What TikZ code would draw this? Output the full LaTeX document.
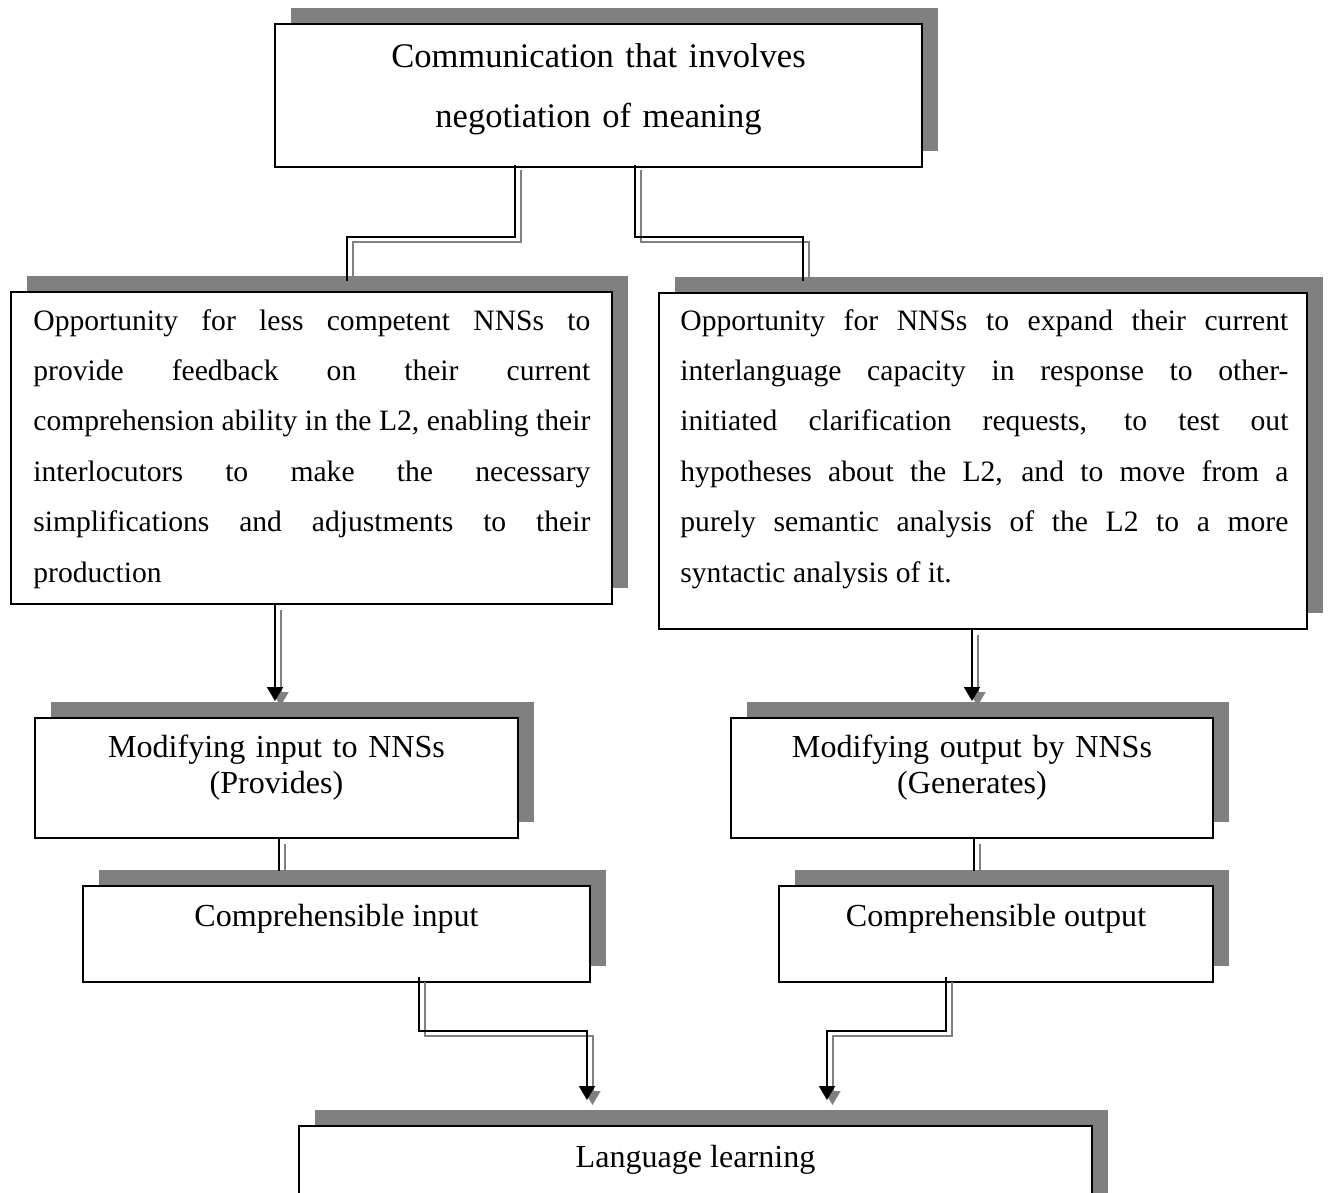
\documentclass[tikz,border=0pt]{standalone}
\usepackage{fontspec}
\setmainfont{Liberation Serif}
\usetikzlibrary{arrows.meta,shadows}
\hyphenpenalty=10000

\begin{document}
\begin{tikzpicture}[x=0.5pt,y=0.5pt,
  box/.style={draw=black, line width=1pt, fill=white, inner sep=0pt,
    general shadow={fill=black!50, shadow xshift=8pt, shadow yshift=8pt}},
  txt/.style={inner sep=0pt, anchor=base},
  link/.style={draw=black, line width=1pt,
    preaction={draw=black!50, line width=1pt, transform canvas={shift={(2.75pt,-2.5pt)}}}},
  tiplink/.style={draw=black, line width=1pt, -{Triangle[length=7pt,width=8pt]},
    preaction={draw=black!50, line width=1pt, -{Triangle[length=7pt,width=8pt]},
      transform canvas={shift={(2.75pt,-2.5pt)}}}}]
\useasboundingbox (0,0) rectangle (1328,-1193);
\clip (0,0) rectangle (1328,-1193);

\node[box, minimum width=323.5pt, minimum height=71.5pt] (top) at (598.5,-95.5) {};
\node[box, minimum width=300.5pt, minimum height=156pt] (L) at (311.5,-448) {};
\node[box, minimum width=324pt, minimum height=168pt] (R) at (983,-461) {};
\node[box, minimum width=241.5pt, minimum height=60pt] (MI) at (276.5,-778) {};
\node[box, minimum width=241pt, minimum height=60pt] (MO) at (972,-778) {};
\node[box, minimum width=253.5pt, minimum height=48pt] (CI) at (336.5,-934) {};
\node[box, minimum width=217pt, minimum height=48pt] (CO) at (996,-934) {};
\node[box, minimum width=396.5pt, minimum height=52pt] (LL) at (695.5,-1178) {};

\node[txt, text width=323.5pt, align=center, font=\fontsize{17.27pt}{30pt}\selectfont] (topt) at (598.5,-68)
  {Communication that involves\\negotiation of meaning};
\node[txt, anchor=base west, text width=278.5pt, align=justify, font=\fontsize{14.8pt}{25.2pt}\selectfont] (Lt) at (33,-330)
  {Opportunity for less competent NNSs to\linebreak provide feedback on their current\linebreak
   comprehension ability in the L2, enabling their\linebreak interlocutors to make the necessary\linebreak
   simplifications and adjustments to their\linebreak production};
\node[txt, anchor=base west, text width=304pt, align=justify, font=\fontsize{14.8pt}{25.2pt}\selectfont] (Rt) at (680,-330)
  {Opportunity for NNSs to expand their current\linebreak interlanguage capacity in response to other-\linebreak
   initiated clarification requests, to test out\linebreak hypotheses about the L2, and to move from a\linebreak
   purely semantic analysis of the L2 to a more\linebreak syntactic analysis of it.};
\node[txt, text width=241.5pt, align=center, font=\fontsize{16.04pt}{18pt}\selectfont] (MIt) at (276.5,-757)
  {Modifying input to NNSs\\(Provides)};
\node[txt, text width=241pt, align=center, font=\fontsize{16.04pt}{18pt}\selectfont] (MOt) at (972,-757)
  {Modifying output by NNSs\\(Generates)};
\node[txt, font=\fontsize{16.04pt}{18pt}\selectfont] (CIt) at (336.5,-926) {Comprehensible input};
\node[txt, font=\fontsize{16.04pt}{18pt}\selectfont] (COt) at (996,-926) {Comprehensible output};
\node[txt, font=\fontsize{16.04pt}{18pt}\selectfont] (LLt) at (695.5,-1167) {Language learning};

\draw[link] ([xshift=-41.75pt,yshift=1.5pt]top.south) -- ++(0,-72) -| ([xshift=17.75pt,yshift=5pt]L.north);
\draw[link] ([xshift=18.25pt,yshift=1.5pt]top.south) -- ++(0,-72) -| ([xshift=-90pt,yshift=5.5pt]R.north);
\draw[tiplink] ([xshift=-18.25pt]L.south) -- ([xshift=-0.75pt,yshift=8pt]MI.north);
\draw[tiplink] ([xshift=-5.5pt]R.south) -- ([yshift=8pt]MO.north);
\draw[link] ([xshift=1.25pt]MI.south) -- ++(0,-32);
\draw[link] ([xshift=1pt]MO.south) -- ++(0,-32);
\draw[tiplink] ([xshift=41.25pt,yshift=3pt]CI.south) -- ++(0,-54) -| ([xshift=-54.25pt,yshift=12.5pt]LL.north);
\draw[tiplink] ([xshift=-25pt,yshift=3pt]CO.south) -- ++(0,-54) -| ([xshift=65.75pt,yshift=12.5pt]LL.north);
\end{tikzpicture}
\end{document}
